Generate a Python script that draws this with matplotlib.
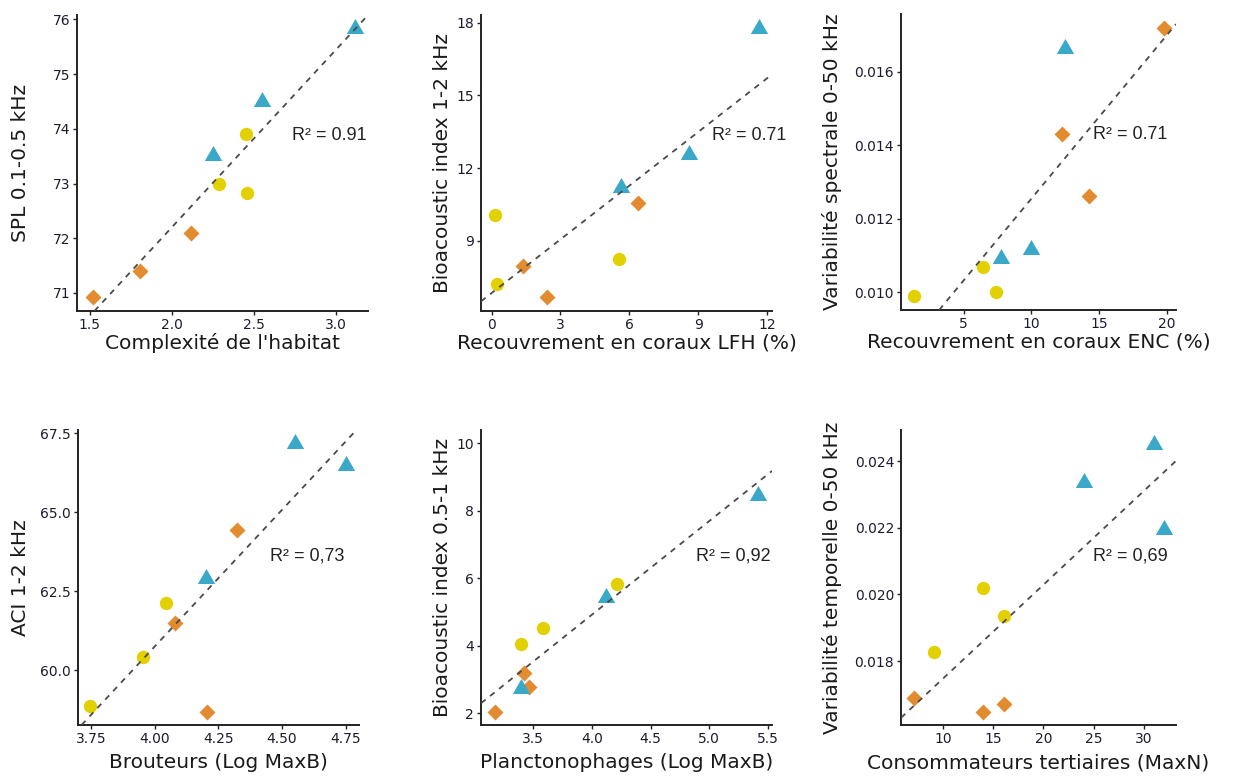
import numpy as np
import matplotlib.pyplot as plt
from matplotlib.path import Path

# === Data: 9 sites per panel, ordered 3 jaune / 3 orange / 3 bleu ===
site_group = ["jaune"] * 3 + ["orange"] * 3 + ["bleu"] * 3

habitat_x = [2.29, 2.455, 2.46, 1.52, 1.81, 2.12, 2.25, 2.55, 3.12]
spl_y = [73.0, 73.9, 72.83, 70.93, 71.40, 72.09, 73.55, 74.55, 75.87]

lfh_x = [0.145, 0.25, 5.56, 1.35, 2.41, 6.37, 5.63, 8.6, 11.67]
bio12_y = [10.06, 7.24, 8.27, 7.97, 6.69, 10.58, 11.30, 12.67, 17.86]

enc_x = [1.34, 6.40, 7.39, 12.25, 14.22, 19.75, 7.73, 9.99, 12.5]
spec_y = [0.0099, 0.0107, 0.0100, 0.0143, 0.01262, 0.0172, 0.01099, 0.01124, 0.0167]

brout_x = [3.747, 3.953, 4.044, 4.081, 4.205, 4.323, 4.202, 4.551, 4.75]
aci_y = [58.86, 60.42, 62.13, 61.48, 58.66, 64.44, 62.99, 67.24, 66.55]

plancto_x = [3.395, 3.585, 4.215, 3.174, 3.418, 3.466, 3.395, 4.118, 5.415]
bio05_y = [4.04, 4.52, 5.83, 2.03, 3.20, 2.79, 2.81, 5.51, 8.52]

tert_x = [9.14, 13.99, 16.05, 7.08, 13.99, 16.05, 24.02, 31.0, 32.0]
temp_y = [0.01826, 0.02018, 0.01935, 0.01688, 0.01646, 0.01671, 0.02343, 0.02458, 0.02203]

x_labels = ["Complexité de l'habitat", "Recouvrement en coraux LFH (%)",
            "Recouvrement en coraux ENC (%)", "Brouteurs (Log MaxB)",
            "Planctonophages (Log MaxB)", "Consommateurs tertiaires (MaxN)"]
y_labels = ["SPL 0.1-0.5 kHz", "Bioacoustic index 1-2 kHz",
            "Variabilité spectrale 0-50 kHz", "ACI 1-2 kHz",
            "Bioacoustic index 0.5-1 kHz", "Variabilité temporelle 0-50 kHz"]
r2_labels = ["R² = 0.91", "R² = 0.71", "R² = 0.71", "R² = 0,73", "R² = 0,92", "R² = 0,69"]

x_ticks = [[1.5, 2.0, 2.5, 3.0], [0, 3, 6, 9, 12], [5, 10, 15, 20],
           [3.75, 4.00, 4.25, 4.50, 4.75], [3.5, 4.0, 4.5, 5.0, 5.5], [10, 15, 20, 25, 30]]
x_tick_fmt = ["{:.1f}", "{:.0f}", "{:.0f}", "{:.2f}", "{:.1f}", "{:.0f}"]
y_ticks = [[71, 72, 73, 74, 75, 76], [9, 12, 15, 18], [0.010, 0.012, 0.014, 0.016],
           [60.0, 62.5, 65.0, 67.5], [2, 4, 6, 8, 10], [0.018, 0.020, 0.022, 0.024]]
y_tick_fmt = ["{:.0f}", "{:.0f}", "{:.3f}", "{:.1f}", "{:.0f}", "{:.3f}"]

panels = [(habitat_x, spl_y), (lfh_x, bio12_y), (enc_x, spec_y),
          (brout_x, aci_y), (plancto_x, bio05_y), (tert_x, temp_y)]

# === Layout (pixel boxes: left, top, right, bottom) and axis ranges ===
W, H = 1236, 776
boxes = [(77, 15, 368, 311), (481, 15, 772, 311), (901, 14, 1176, 310),
         (78, 430, 359, 725), (481, 430, 772, 725), (901, 430, 1176, 725)]
xlims = [(1.423, 3.197), (-0.465, 12.22), (0.38, 20.66),
         (3.699, 4.802), (3.055, 5.534), (5.81, 33.22)]
ylims = [(70.67, 76.08), (6.11, 18.32), (0.00952, 0.01757),
         (58.26, 67.6), (1.654, 10.395), (0.01608, 0.02493)]
r2_pos = [(2.736, 73.88), (9.6, 13.36), (14.54, 0.01428),
          (4.453, 63.62), (4.89, 6.67), (24.95, 0.02116)]
xlab_off = [32, 32, 32, 38, 38, 38]      # px below the x axis
ylab_off = [56, 39, 69, 57, 39, 69]      # px left of the y axis

tri = Path([(-1, -0.866), (1, -0.866), (0, 0.866), (-1, -0.866)],
           [Path.MOVETO, Path.LINETO, Path.LINETO, Path.CLOSEPOLY])
styles = {
    "jaune": dict(marker="o", color="#E3D000", ms=9.6),
    "orange": dict(marker="D", color="#E38B2F", ms=8.3),
    "bleu": dict(marker=tri, color="#3AA8C8", ms=12.5),
}

fig = plt.figure(figsize=(W / 100, H / 100), dpi=100)
groups = np.array(site_group)

for i, (xs, ys) in enumerate(panels):
    l, t, r, b = boxes[i]
    ax = fig.add_axes([l / W, 1 - b / H, (r - l) / W, (b - t) / H])
    xs = np.array(xs)
    ys = np.array(ys)

    for g in ["jaune", "orange", "bleu"]:
        m = groups == g
        st = styles[g]
        ax.plot(xs[m], ys[m], ls="none", marker=st["marker"], ms=st["ms"],
                color=st["color"], mec="none", zorder=3)

    # least-squares fit over all sites, drawn across the full panel
    slope, icpt = np.polyfit(xs, ys, 1)
    ax.axline((0, icpt), slope=slope, color="#4a4a4a", lw=1.3,
              ls=(0, (3.2, 3.2)), zorder=4)

    ax.text(r2_pos[i][0], r2_pos[i][1], r2_labels[i], ha="left", va="center",
            fontsize=13, family="Liberation Sans", color="#222222")

    ax.set_xlim(*xlims[i])
    ax.set_ylim(*ylims[i])
    ax.set_xticks(x_ticks[i])
    ax.set_xticklabels([x_tick_fmt[i].format(v) for v in x_ticks[i]])
    ax.set_yticks(y_ticks[i])
    ax.set_yticklabels([y_tick_fmt[i].format(v) for v in y_ticks[i]])

    for s in ["top", "right"]:
        ax.spines[s].set_visible(False)
    for s in ["left", "bottom"]:
        ax.spines[s].set_linewidth(1.4)
        ax.spines[s].set_color("#222222")
    ax.tick_params(direction="out", length=3, width=1, color="#222222",
                   labelsize=10, labelcolor="#1c1c30", pad=2)

    ax.set_xlabel(x_labels[i], fontsize=14.5, color="#1a1a1a")
    ax.set_ylabel(y_labels[i], fontsize=14.5, color="#1a1a1a")
    ax.xaxis.set_label_coords(0.5, -xlab_off[i] / (b - t))
    ax.xaxis.label.set_va("center")
    ax.yaxis.set_label_coords(-ylab_off[i] / (r - l), 0.5)
    ax.yaxis.label.set_va("center")

fig.savefig("out.png", dpi=100)
